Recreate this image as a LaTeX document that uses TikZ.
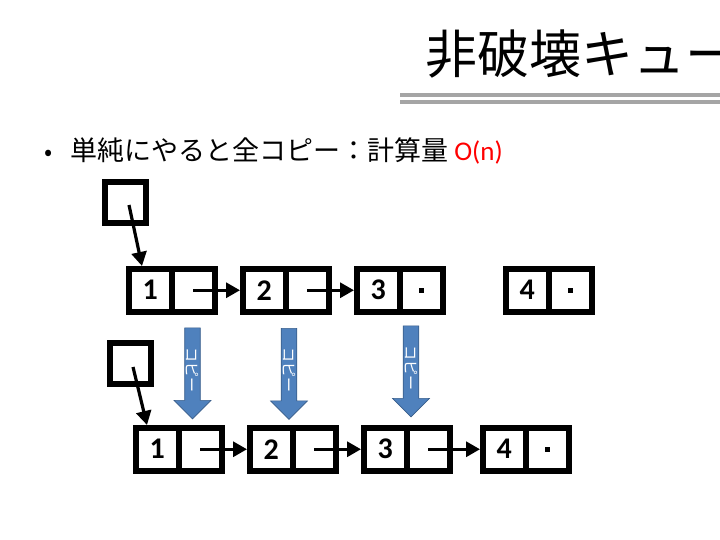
\documentclass[tikz,border=0pt]{standalone}
\usepackage{fontspec}
\setmainfont{Carlito}
\newfontfamily\cjk{Noto Sans CJK JP}
\usetikzlibrary{arrows.meta,shapes.arrows}
\definecolor{copyblue}{RGB}{79,129,189}
\definecolor{copyedge}{RGB}{56,93,138}
\definecolor{rulegray}{RGB}{165,165,165}
\tikzset{
  cell/.style={draw=black,line width=5.5pt,minimum width=43pt,minimum height=43pt,inner sep=0pt,font=\fontsize{30}{30}\selectfont\bfseries},
  headbox/.style={draw=black,line width=6pt,minimum width=41pt,minimum height=41pt,inner sep=0pt},
  link/.style={line width=3.2pt,-{Triangle[length=14pt,width=15pt]}},
  nil/.style={fill=black,minimum size=5pt,inner sep=0pt},
  copyarrow/.style={single arrow,draw=copyedge,fill=copyblue,line width=0.6pt,shape border rotate=270,minimum width=37pt,single arrow head extend=9pt,single arrow head indent=0pt,minimum height=91pt,inner sep=0pt,text=white,font=\cjk\fontsize{15}{15}\selectfont}
}
\begin{document}
\begin{tikzpicture}[x=1pt,y=-1pt]
\useasboundingbox (0,0) rectangle (720,540);
% title
\node[anchor=base west,inner sep=0pt,font=\cjk\fontsize{52}{52}\selectfont\mdseries] (title) at (425,74) {非破壊キュー};
\fill[rulegray] (400,93) rectangle (720,97);
\fill[rulegray] (400,100) rectangle (720,104);
% bullet
\node[anchor=base west,inner sep=0pt,font=\cjk\fontsize{24}{24}\selectfont] (bul) at (44,161) {•};
\node[anchor=base west,inner sep=0pt,font=\fontsize{27}{27}\selectfont] (txt) at (70,161) {{\cjk 単純にやると全コピー：計算量} \textcolor{red}{O(n)}};
% top list
\node[headbox] (h1) at (125.5,202.5) {};
\foreach \i/\x/\v in {1/126/1,2/240/2,3/354/3,4/503/4}{
  \node[cell,anchor=north west] (a\i) at (\x,266) {\v};
  \node[cell,anchor=north west] (b\i) at (\x+43,266) {};
}
\node[nil] (n3) at (b3.center) {};
\node[nil] (n4) at (b4.center) {};
\draw[link] (b1.center) -- (a2.west);
\draw[link] (b2.center) -- (a3.west);
\coordinate (h1s) at (129,205);
\draw[link] (h1s) -- (142,266);
% bottom list
\node[headbox] (h2) at (130.5,363) {};
\foreach \i/\x/\v in {1/133/1,2/247/2,3/361/3,4/480/4}{
  \node[cell,anchor=north west] (c\i) at (\x,425) {\v};
  \node[cell,anchor=north west] (d\i) at (\x+43,425) {};
}
\node[nil] (m4) at (d4.center) {};
\draw[link] (d1.center) -- (c2.west);
\draw[link] (d2.center) -- (c3.west);
\draw[link] (d3.center) -- (c4.west);
\coordinate (h2s) at (133,367);
\draw[link] (h2s) -- (147,425);
% copy arrows
\node[copyarrow] (k1) at (192.5,369.5) {\rotatebox{-90}{コピー}};
\node[copyarrow] (k2) at (289,370) {\rotatebox{-90}{コピー}};
\node[copyarrow] (k3) at (411,367.5) {\rotatebox{-90}{コピー}};
\end{tikzpicture}
\end{document}
